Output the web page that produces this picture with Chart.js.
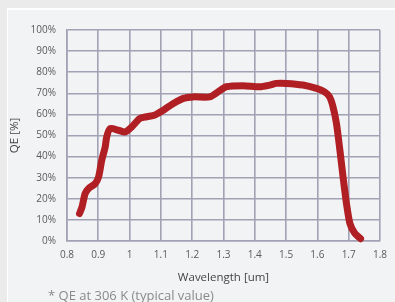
<!DOCTYPE html>
<html>
<head>
<meta charset="utf-8">
<script src="https://cdn.jsdelivr.net/npm/chart.js@4/dist/chart.umd.min.js"></script>
<style>
  html, body { margin: 0; padding: 0; background: #ebebeb; overflow: hidden; }
  #wrap { position: relative; width: 395px; height: 302px; }
  #panel {
    position: absolute; left: 7px; top: 8px; right: 0; bottom: 0;
    background: #f2f3f5; border-top: 2px solid #fff; border-left: 1px solid #fff;
  }
  canvas { position: absolute; left: 0; top: 0; }
  #note {
    position: absolute; left: 48px; top: 286px; line-height: 18px;
    font: 13px "Open Sans", sans-serif; color: #8a8a8a; white-space: nowrap;
  }
</style>
</head>
<body>
<div id="wrap">
  <div id="panel"></div>
  <canvas id="qe-chart" width="395" height="302"></canvas>
  <div id="note">* QE at 306 K (typical value)</div>
</div>
<script>
// values
const wavelength = [0.840, 0.848, 0.858, 0.869, 0.890, 0.901, 0.911, 0.922, 0.927, 0.938,
  0.964, 0.986, 1.007, 1.033, 1.055, 1.081, 1.108, 1.140, 1.172, 1.203,
  1.256, 1.283, 1.309, 1.362, 1.416, 1.448, 1.469, 1.501, 1.554, 1.597,
  1.623, 1.639, 1.650, 1.661, 1.672, 1.682, 1.693, 1.704, 1.720, 1.738];
const qe = [13.0, 16.1, 22.5, 24.9, 27.2, 30.4, 38.3, 44.6, 49.4, 53.3,
  52.5, 51.7, 54.1, 58.1, 58.9, 59.7, 62.0, 65.2, 67.6, 68.3,
  68.3, 70.7, 73.1, 73.6, 73.1, 73.9, 74.7, 74.7, 73.9, 72.3,
  70.7, 68.3, 63.6, 55.7, 43.0, 30.4, 17.7, 8.3, 3.5, 1.1];

const xTicks = [0.8, 0.9, 1, 1.1, 1.2, 1.3, 1.4, 1.5, 1.6, 1.7, 1.8];
const yTicks = [0, 10, 20, 30, 40, 50, 60, 70, 80, 90, 100];

const gridColor = "#a2a2b4";
const tickFont = { family: "'Open Sans', sans-serif", size: 10 };

new Chart(document.getElementById("qe-chart"), {
  type: "scatter",
  data: {
    datasets: [{
      data: wavelength.map((w, i) => ({ x: w, y: qe[i] })),
      showLine: true,
      borderColor: "#b01f24",
      borderWidth: 7,
      borderCapStyle: "round",
      borderJoinStyle: "round",
      tension: 0.25,
      pointRadius: 0,
      clip: false,
    }],
  },
  options: {
    responsive: false,
    animation: false,
    layout: { padding: { top: 30, right: 15, left: 0, bottom: 0 } },
    plugins: { legend: { display: false }, tooltip: { enabled: false } },
    scales: {
      x: {
        type: "linear",
        min: 0.8,
        max: 1.8,
        afterBuildTicks: (s) => { s.ticks = xTicks.map(v => ({ value: v })); },
        afterFit: (s) => { s.height = 61; },
        ticks: {
          color: "#5a5a5a",
          font: tickFont,
          padding: 8,
          callback: (v) => String(Math.round(v * 10) / 10),
        },
        grid: { color: gridColor, lineWidth: 1.6, drawTicks: false },
        border: { color: gridColor, width: 1.6 },
        title: {
          display: true,
          text: "Wavelength [um]",
          color: "#444",
          font: { family: "'Open Sans', sans-serif", size: 11.5 },
          padding: { top: 0, bottom: 17 },
        },
      },
      y: {
        min: 0,
        max: 100,
        afterBuildTicks: (s) => { s.ticks = yTicks.map(v => ({ value: v })); },
        afterFit: (s) => { s.width = 67; },
        ticks: {
          color: "#5a5a5a",
          font: tickFont,
          padding: 11,
          callback: (v) => v + "%",
        },
        grid: { color: gridColor, lineWidth: 1.6, drawTicks: false },
        border: { color: gridColor, width: 1.6 },
        title: {
          display: true,
          text: "QE [%]",
          color: "#444",
          font: { family: "'Open Sans', sans-serif", size: 11.5 },
          padding: { top: 8, bottom: 0 },
        },
      },
    },
  },
});
</script>
</body>
</html>
